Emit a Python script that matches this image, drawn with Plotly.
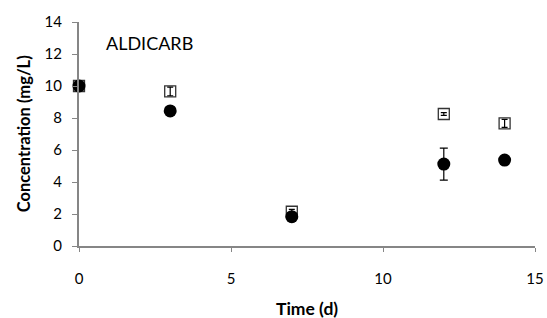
import plotly.graph_objects as go

time_d = [0, 3, 7, 12, 14]
series_a = [10.0, 9.66, 2.14, 8.25, 7.67]
series_a_err = [0.0, 0.27, 0.15, 0.08, 0.25]
series_b = [10.0, 8.44, 1.83, 5.12, 5.37]
series_b_err = [0.0, 0.0, 0.0, 1.0, 0.0]

x_ticks = [0, 5, 10, 15]
y_ticks = [0, 2, 4, 6, 8, 10, 12, 14]

font_family = "Lato, Open Sans, sans-serif"

fig = go.Figure()
fig.add_trace(go.Scatter(
    x=time_d, y=series_a, mode="markers",
    marker=dict(symbol="square", size=11, color="white", line=dict(color="#333333", width=1.3)),
    cliponaxis=False, showlegend=False, hoverinfo="skip",
))
# error bars of the open-square series drawn on top of the squares
fig.add_trace(go.Scatter(
    x=time_d, y=series_a, mode="markers",
    marker=dict(symbol="square", size=11, color="rgba(0,0,0,0)"),
    error_y=dict(type="data", array=series_a_err, color="black", thickness=1.2, width=3),
    cliponaxis=False, showlegend=False,
))
fig.add_trace(go.Scatter(
    x=time_d, y=series_b, mode="markers",
    marker=dict(symbol="circle", size=13, color="black"),
    error_y=dict(type="data", array=series_b_err, color="black", thickness=1.2, width=4),
    cliponaxis=False, showlegend=False,
))

fig.update_layout(
    width=547, height=318,
    margin=dict(l=79, r=12, t=22, b=72),
    paper_bgcolor="white", plot_bgcolor="white",
    font=dict(family=font_family, size=15, color="black"),
    xaxis=dict(
        range=[0, 15], tickvals=x_ticks, showgrid=False, zeroline=False,
        showline=True, linecolor="#868686", linewidth=2,
        ticks="outside", ticklen=4, tickcolor="#868686",
        ticklabelstandoff=14, automargin=False,
    ),
    yaxis=dict(
        range=[0, 14], tickvals=y_ticks, showgrid=False, zeroline=False,
        showline=True, linecolor="#868686", linewidth=2,
        ticks="outside", ticklen=5, tickcolor="#868686",
        ticklabelstandoff=7, automargin=False,
    ),
    annotations=[
        dict(text="ALDICARB", xref="paper", yref="paper", x=0.055, y=0.905,
             xanchor="left", yanchor="middle", showarrow=False, font=dict(size=18)),
        dict(text="<b>Time (d)</b>", xref="paper", yref="paper", x=0.5, y=-0.28,
             xanchor="center", yanchor="middle", showarrow=False,
             font=dict(size=17.5)),
        dict(text="<b>Concentration (mg/L)</b>", xref="paper", yref="paper",
             x=-0.12, y=0.5, xanchor="center", yanchor="middle", textangle=-90,
             showarrow=False, font=dict(size=16.5)),
    ],
)

fig.write_html("out.html", config={"displayModeBar": False},
               post_script="document.body.style.margin='0';document.body.style.overflow='hidden';")
